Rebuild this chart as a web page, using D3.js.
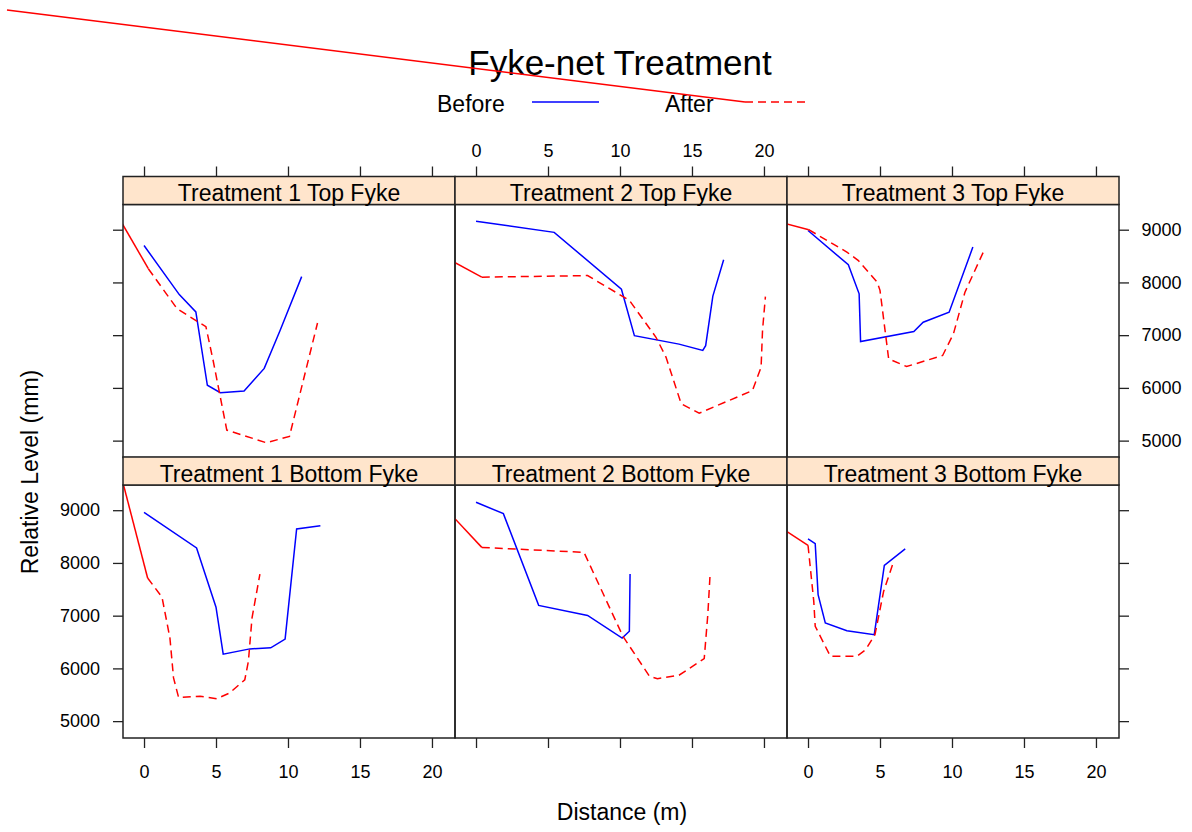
<!DOCTYPE html>
<html lang="en">
  <head>
    <meta charset="UTF-8" />
    <title>Fyke-net Treatment</title>
    <script src="https://d3js.org/d3.v7.min.js"></script>
    <style>
      body { margin: 0; background: #fff; }
      svg { display: block; font-family: "Liberation Sans", Arial, sans-serif; }
      .tick text { font-size: 18px; fill: #000; }
      .tick line { stroke: #222; stroke-width: 1.3; }
    </style>
  </head>
  <body>
    <script>
      // panel titles, in lattice order (top row first)
      const panelNames = [
        "Treatment 1 Top Fyke", "Treatment 2 Top Fyke", "Treatment 3 Top Fyke",
        "Treatment 1 Bottom Fyke", "Treatment 2 Bottom Fyke", "Treatment 3 Bottom Fyke"
      ];
      const xTicks = [0, 5, 10, 15, 20];
      const yTicks = [5000, 6000, 7000, 8000, 9000];

      // [distance (m), relative level (mm)]
      const t1TopBefore = [[0, 8700], [2.45, 7770], [3.6, 7440], [4.4, 6050], [5.3, 5910], [6.95, 5940], [8.35, 6370], [9.45, 7090], [10.95, 8110]];
      const t1TopAfter = [[0.3, 8260], [2.3, 7500], [4.3, 7160], [4.8, 6520], [5.75, 5200], [8.5, 4960], [10.1, 5080], [12.05, 7230]];
      const t2TopBefore = [[0, 9160], [5.43, 8950], [10.1, 7870], [11, 6990], [14.1, 6830], [15.75, 6710], [15.95, 6800], [16.45, 7740], [17.2, 8430]];
      const t2TopAfter = [[0.4, 8100], [7.75, 8130], [10.65, 7660], [12.5, 6960], [13.2, 6580], [14.25, 5700], [15.5, 5520], [19.2, 5950], [19.8, 6390], [19.9, 7090], [20.1, 7730]];
      const t3TopBefore = [[0, 8985], [2.8, 8335], [3.55, 7785], [3.65, 6880], [7.35, 7070], [8, 7245], [9.8, 7435], [11.45, 8670]];
      const t3TopAfter = [[0.05, 9000], [2.7, 8575], [3.5, 8415], [4.8, 8005], [5.0, 7850], [5.6, 6550], [6.85, 6405], [9.35, 6615], [10.1, 7025], [10.9, 7815], [12.25, 8620]];
      const t1BotBefore = [[0, 8960], [3.65, 8285], [5, 7160], [5.5, 6270], [7.35, 6370], [8.8, 6390], [9.8, 6555], [10.6, 8645], [12.25, 8705]];
      const t1BotAfter = [[0.25, 7715], [1.25, 7350], [1.8, 6575], [2.05, 5820], [2.4, 5450], [3.9, 5470], [5.05, 5425], [5.95, 5535], [7, 5785], [7.25, 6135], [7.5, 6955], [8.05, 7790]];
      const t2BotBefore = [[0, 9150], [1.9, 8935], [4.35, 7195], [7.75, 7005], [10.15, 6575], [10.65, 6705], [10.7, 7790]];
      const t2BotAfter = [[0.4, 8295], [7.5, 8200], [10.2, 6610], [12.05, 5850], [12.6, 5805], [14.1, 5870], [15.85, 6185], [16.1, 7020], [16.25, 7745]];
      const t3BotBefore = [[0, 8455], [0.5, 8365], [0.7, 7400], [1.2, 6860], [2.7, 6715], [4.6, 6640], [5.3, 7955], [6.75, 8265]];
      const t3BotAfter = [[0, 8335], [0.4, 7270], [0.5, 6800], [1.55, 6230], [3.4, 6230], [4, 6355], [4.65, 6640], [5.25, 7460], [5.95, 8030]];
      // the "after" trace starts with a solid stroke from the panel edge
      const afterLead = [[-1.5, 9110], [-1.5, 8380], [-1.5, 9110], [-1.5, 9560], [-1.5, 8850], [-1.5, 8600]];

      const before = [t1TopBefore, t2TopBefore, t3TopBefore, t1BotBefore, t2BotBefore, t3BotBefore];
      const after = [t1TopAfter, t2TopAfter, t3TopAfter, t1BotAfter, t2BotAfter, t3BotAfter];

      const width = 1192, height = 832;
      const colLeft = [123, 455, 787], panelW = 332;
      const rowStrip = [176.5, 457], stripH = 28, panelH = 253;

      const svg = d3.select("body").append("svg")
        .attr("width", width).attr("height", height);

      const x = d3.scaleLinear().domain([-1.46, 21.6]).range([0, panelW]);
      const y = d3.scaleLinear().domain([4680, 9478]).range([panelH, 0]);
      const line = d3.line().x(d => x(d[0])).y(d => y(d[1]));
      const fmt = d3.format("d");

      // title + legend
      svg.append("text").attr("x", 620).attr("y", 75).attr("text-anchor", "middle")
        .style("font-size", "35px").text("Fyke-net Treatment");
      svg.append("text").attr("x", 437).attr("y", 112).style("font-size", "23px").text("Before");
      svg.append("line").attr("x1", 532).attr("x2", 599).attr("y1", 102).attr("y2", 102)
        .attr("stroke", "#0000ff").attr("stroke-width", 1.5);
      svg.append("text").attr("x", 665).attr("y", 112).style("font-size", "23px").text("After");
      svg.append("line").attr("x1", 7).attr("y1", 10).attr("x2", 745).attr("y2", 102)
        .attr("stroke", "#ff0000").attr("stroke-width", 1.5);
      svg.append("line").attr("x1", 745).attr("x2", 805).attr("y1", 102).attr("y2", 102)
        .attr("stroke", "#ff0000").attr("stroke-width", 1.5).attr("stroke-dasharray", "8,5");

      panelNames.forEach((name, i) => {
        const col = i % 3, row = Math.floor(i / 3);
        const px = colLeft[col], sy = rowStrip[row], py = sy + stripH;
        const g = svg.append("g").attr("transform", `translate(${px},${py})`);

        g.append("clipPath").attr("id", "clip" + i)
          .append("rect").attr("width", panelW).attr("height", panelH);
        const plot = g.append("g").attr("clip-path", `url(#clip${i})`);

        plot.append("path").datum(before[i]).attr("d", line)
          .attr("fill", "none").attr("stroke", "#0000ff").attr("stroke-width", 1.5);
        plot.append("path").datum([afterLead[i], after[i][0]]).attr("d", line)
          .attr("fill", "none").attr("stroke", "#ff0000").attr("stroke-width", 1.5);
        plot.append("path").datum(after[i]).attr("d", line)
          .attr("fill", "none").attr("stroke", "#ff0000").attr("stroke-width", 1.5)
          .attr("stroke-dasharray", "8,5");

        g.append("rect").attr("width", panelW).attr("height", panelH)
          .attr("fill", "none").attr("stroke", "#222").attr("stroke-width", 1.5);

        // strip
        svg.append("rect").attr("x", px).attr("y", sy).attr("width", panelW).attr("height", stripH)
          .attr("fill", "#ffe5cc").attr("stroke", "#222").attr("stroke-width", 1.5);
        svg.append("text").attr("x", px + panelW / 2).attr("y", sy + 24.5)
          .attr("text-anchor", "middle").style("font-size", "23px").text(name);

        // alternating axes, as lattice does
        if (row === 0) {
          const top = d3.axisTop(x).tickValues(xTicks).tickSize(10).tickSizeOuter(0).tickPadding(10);
          if (col !== 1) top.tickFormat("");
          svg.append("g").attr("transform", `translate(${px},${sy})`).call(top);
          if (col !== 1) {
            const side = col === 0 ? d3.axisLeft(y).tickFormat("") : d3.axisRight(y).tickFormat(fmt).tickPadding(12.5);
            side.tickValues(yTicks).tickSize(10).tickSizeOuter(0);
            svg.append("g").attr("transform", `translate(${col === 0 ? px : px + panelW},${py})`).call(side);
          }
        } else {
          const bottom = d3.axisBottom(x).tickValues(xTicks).tickSize(10).tickSizeOuter(0).tickPadding(17);
          if (col === 1) bottom.tickFormat("");
          svg.append("g").attr("transform", `translate(${px},${py + panelH})`).call(bottom);
          if (col !== 1) {
            const side = col === 0 ? d3.axisLeft(y).tickFormat(fmt).tickPadding(13) : d3.axisRight(y).tickFormat("");
            side.tickValues(yTicks).tickSize(10).tickSizeOuter(0);
            svg.append("g").attr("transform", `translate(${col === 0 ? px : px + panelW},${py})`).call(side);
          }
        }
      });

      svg.selectAll(".domain").remove();
      svg.selectAll("g[font-family]").attr("font-family", null).attr("font-size", null);

      svg.append("text").attr("transform", "translate(38,472) rotate(-90)")
        .attr("text-anchor", "middle").style("font-size", "23px").text("Relative Level (mm)");
      svg.append("text").attr("x", 622).attr("y", 820).attr("text-anchor", "middle")
        .style("font-size", "23px").text("Distance (m)");
    </script>
  </body>
</html>
